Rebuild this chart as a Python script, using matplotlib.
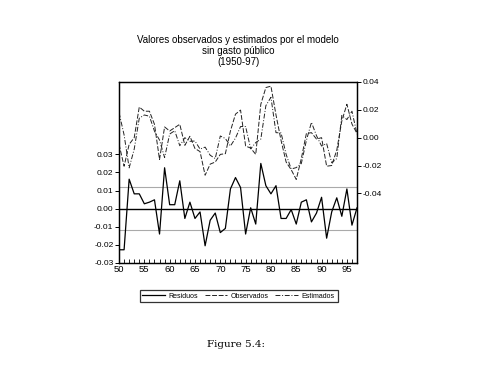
import numpy as np
import matplotlib
matplotlib.use('Agg')
from matplotlib import pyplot as plt
from matplotlib.ticker import MultipleLocator

years = np.arange(50, 98)

residuos = [-0.0227, -0.0227, 0.0163, 0.0082, 0.0082, 0.0027, 0.0036, 0.0049,
            -0.0140, 0.0226, 0.0022, 0.0022, 0.0154, -0.0054, 0.0036, -0.0054,
            -0.0018, -0.0205, -0.0064, -0.0024, -0.0132, -0.0109, 0.0109, 0.0172,
            0.0117, -0.0140, 0.0005, -0.0085, 0.0250, 0.0127, 0.0082, 0.0127,
            -0.0054, -0.0054, -0.0005, -0.0085, 0.0036, 0.0049, -0.0073, -0.0024,
            0.0063, -0.0163, -0.0018, 0.0060, -0.0042, 0.0109, -0.0091, 0.0005]

observados = [-0.0047, -0.0205, -0.0048, 0.0000, 0.0220, 0.0190, 0.0190, 0.0096,
              -0.0157, 0.0077, 0.0048, 0.0072, 0.0096, -0.0055, 0.0010, -0.0078,
              -0.0100, -0.0270, -0.0190, -0.0175, -0.0120, -0.0115, 0.0048, 0.0169,
              0.0198, -0.0060, -0.0075, -0.0120, 0.0240, 0.0360, 0.0370, 0.0163,
              -0.0020, -0.0175, -0.0230, -0.0300, -0.0150, 0.0030, 0.0036, -0.0010,
              0.0000, -0.0205, -0.0200, -0.0090, 0.0120, 0.0240, 0.0098, 0.0030]

estimados = [0.0180, 0.0020, -0.0217, -0.0082, 0.0140, 0.0163, 0.0154, 0.0047,
             -0.0017, -0.0143, 0.0026, 0.0050, -0.0058, 0.0000, -0.0026, -0.0024,
             -0.0082, -0.0068, -0.0126, -0.0150, 0.0012, -0.0006, -0.0060, -0.0003,
             0.0080, 0.0080, -0.0080, -0.0035, -0.0010, 0.0230, 0.0290, 0.0036,
             0.0034, -0.0120, -0.0225, -0.0215, -0.0186, -0.0020, 0.0110, 0.0014,
             -0.0060, -0.0042, -0.0180, -0.0150, 0.0160, 0.0130, 0.0190, 0.0025]

se = 0.012

plt.rcParams['font.family'] = ['Liberation Sans', 'DejaVu Sans']

fig = plt.figure(figsize=(4.87, 3.65), dpi=100)
ax = fig.add_axes([0.2444, 0.2795, 0.4887, 0.4959])
ax2 = ax.twinx()

# right axis: observed / estimated
ax2.plot(years, observados, color='#222222', lw=0.7, dashes=(5, 1.8), label='Observados')
ax2.plot(years, estimados, color='#222222', lw=0.7, dashes=(5, 1.8, 1, 1.8), label='Estimados')
ax2.set_ylim(-0.09, 0.04)
ax2.set_yticks([-0.04, -0.02, 0.00, 0.02, 0.04])
ax2.set_yticklabels(['-0.04', '-0.02', '0.00', '0.02', '0.04'])

# left axis: residuals
ax.axhline(se, color='#aaaaaa', lw=0.8)
ax.axhline(-se, color='#aaaaaa', lw=0.8)
ax.axhline(0, color='black', lw=1.0)
ax.plot(years, residuos, color='black', lw=0.9, label='Residuos')
ax.set_ylim(-0.03, 0.07)
ax.set_yticks([-0.03, -0.02, -0.01, 0.00, 0.01, 0.02, 0.03])
ax.set_yticklabels(['-0.03', '-0.02', '-0.01', '0.00', '0.01', '0.02', '0.03'])
ax.set_xlim(50, 97)
ax.set_xticks(range(50, 98, 5))
ax.xaxis.set_minor_locator(MultipleLocator(1))

for a in (ax, ax2):
    a.tick_params(axis='y', labelsize=6, length=3, width=0.7, direction='out', pad=1)
    a.tick_params(axis='x', which='both', labelsize=6.8, length=3, width=0.6, direction='in', pad=1.5)
    for s in a.spines.values():
        s.set_linewidth(0.9)

fig.text(0.489, 0.860, 'Valores observados y estimados por el modelo\nsin gasto público\n(1950-97)',
         ha='center', va='center', fontsize=7, linespacing=1.1)

h1, l1 = ax.get_legend_handles_labels()
h2, l2 = ax2.get_legend_handles_labels()
leg = fig.legend(h1 + h2, l1 + l2, loc='center', bbox_to_anchor=(0.49, 0.189), ncol=3,
                 fontsize=5, frameon=True, fancybox=False, edgecolor='black',
                 handlelength=3.2, columnspacing=0.9, handletextpad=0.6,
                 borderpad=0.4)
leg.get_frame().set_linewidth(0.9)

fig.text(0.485, 0.055, 'Figure 5.4:', ha='center', va='center', fontsize=7.5,
         family=['DejaVu Serif'])

fig.savefig('out.png', dpi=100)
